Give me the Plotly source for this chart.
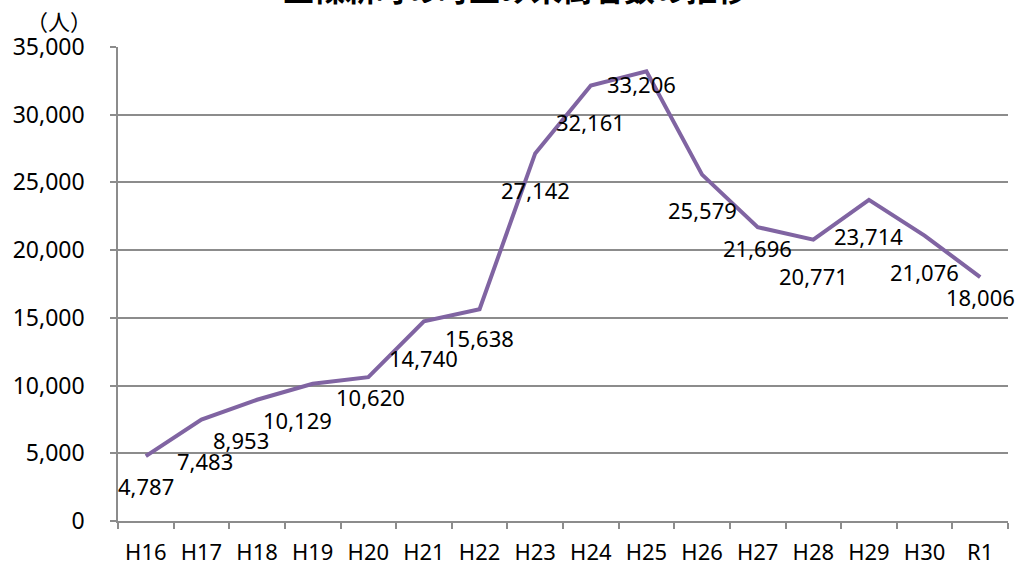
import plotly.graph_objects as go

years = ["H16", "H17", "H18", "H19", "H20", "H21", "H22", "H23",
         "H24", "H25", "H26", "H27", "H28", "H29", "H30", "R1"]
visitors = [4787, 7483, 8953, 10129, 10620, 14740, 15638, 27142,
            32161, 33206, 25579, 21696, 20771, 23714, 21076, 18006]

# label offsets in pixels (dx, dy downward)
label_offsets = [(0, 30), (4, 41), (-16, 40), (-15, 36), (2, 20), (0, 37), (0, 29), (0, 37),
                 (0, 37), (-5, 13), (0, 35), (0, 21), (0, 36), (0, 36), (0, 36), (0, 20)]

FONT = "Noto Sans, Noto Sans CJK JP"
PURPLE = "#8064A2"
GRID = "#8c8c8c"

fig = go.Figure()
fig.add_trace(go.Scatter(
    x=years, y=visitors, mode="lines",
    line=dict(color=PURPLE, width=4),
    hoverinfo="x+y",
))

n = len(years)
for i, (v, (dx, dy)) in enumerate(zip(visitors, label_offsets)):
    fig.add_annotation(xref="paper", x=(i + 0.5) / n, yref="y", y=v, text=f"{v:,}", showarrow=False,
                       xanchor="center", yanchor="middle",
                       xshift=dx, yshift=-dy, font=dict(family=FONT, size=22, color="black"))

fig.add_annotation(xref="paper", yref="paper", x=0.447, y=1, yshift=35, yanchor="bottom",
                   text="<b>五條新町の町並み来街者数の推移</b>", showarrow=False,
                   font=dict(family="Noto Sans CJK JP", size=31, color="black"))
fig.add_annotation(xref="paper", yref="paper", x=0, xshift=-59, xanchor="center",
                   y=1, yshift=27, yanchor="middle",
                   text="（人）", showarrow=False,
                   font=dict(family="Noto Sans CJK JP", size=22, color="black"))

fig.update_layout(
    width=1019, height=564,
    margin=dict(l=118, r=11, t=47, b=43),
    paper_bgcolor="white", plot_bgcolor="white",
    showlegend=False,
    font=dict(family=FONT, size=22, color="black"),
)
fig.update_xaxes(
    type="category", range=[-0.5, 15.5], automargin=False,
    showline=True, linecolor=GRID, linewidth=1.5,
    ticks="outside", tickson="boundaries", ticklen=6, tickcolor=GRID, tickwidth=1.5,
    ticklabelstandoff=11,
    showgrid=False, tickfont=dict(family=FONT, size=22),
)
fig.update_yaxes(
    range=[0, 35000], dtick=5000, tickformat=",d", automargin=False,
    showline=True, linecolor=GRID, linewidth=1.5,
    ticks="outside", ticklen=6, tickcolor=GRID, tickwidth=1.5,
    ticklabelstandoff=21,
    showgrid=True, gridcolor=GRID, gridwidth=1.5, zeroline=False,
    tickfont=dict(family=FONT, size=23),
)

fig.write_html("out.html", config={"displayModeBar": False},
               post_script="document.body.style.margin='0';")
